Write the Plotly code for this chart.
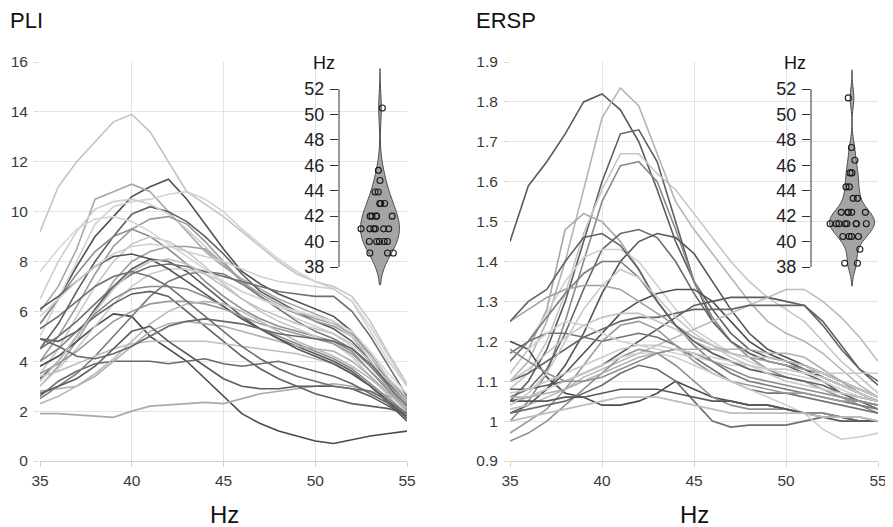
import plotly.graph_objects as go

# ---------------- data ----------------
hz = [35, 36, 37, 38, 39, 40, 41, 42, 43, 44, 45, 46, 47, 48, 49, 50, 51, 52, 53, 54, 55]

pli_s01 = [9.2, 11.0, 12.0, 12.8, 13.6, 13.9, 13.2, 12.0, 10.8, 10.3, 9.8, 9.2, 8.6, 8.0, 7.5, 7.2, 7.0, 6.6, 5.6, 4.3, 3.1]
pli_s02 = [5.5, 6.5, 7.8, 9.0, 9.8, 10.6, 11.0, 11.3, 10.5, 9.5, 8.5, 7.6, 7.1, 6.7, 6.4, 6.1, 5.8, 5.2, 4.2, 3.2, 2.2]
pli_s03 = [6.0, 7.0, 8.5, 10.5, 10.8, 11.1, 10.8, 10.0, 9.2, 8.4, 7.8, 7.3, 6.9, 6.5, 6.2, 5.9, 5.6, 5.0, 4.0, 3.0, 2.3]
pli_s04 = [5.0, 6.5, 8.0, 9.5, 10.2, 10.4, 10.5, 10.7, 10.8, 10.5, 10.0, 9.3, 8.7, 8.1, 7.6, 7.2, 6.9, 6.4, 5.2, 4.0, 3.0]
pli_s05 = [4.5, 5.5, 6.8, 8.0, 9.0, 9.9, 10.2, 10.0, 9.6, 9.0, 8.3, 7.5, 6.8, 6.4, 6.0, 5.6, 5.3, 4.8, 4.0, 3.0, 2.0]
pli_s06 = [6.5, 8.0, 9.2, 10.1, 10.4, 10.5, 10.3, 9.9, 9.3, 8.6, 7.9, 7.2, 6.6, 6.1, 5.7, 5.4, 5.1, 4.6, 3.8, 3.0, 2.4]
pli_s07 = [4.0, 5.0, 6.2, 7.5, 8.6, 9.3, 9.7, 9.8, 9.5, 8.8, 8.0, 7.2, 6.6, 6.2, 5.9, 5.6, 5.4, 5.0, 4.2, 3.3, 2.4]
pli_s08 = [5.5, 6.5, 7.5, 8.4, 9.0, 9.3, 9.0, 8.5, 7.9, 7.2, 6.6, 6.1, 5.7, 5.4, 5.2, 5.0, 4.8, 4.4, 3.6, 2.8, 2.0]
pli_s09 = [3.5, 4.5, 5.8, 7.0, 8.0, 8.7, 9.0, 8.8, 8.4, 7.8, 7.1, 6.5, 6.0, 5.6, 5.3, 5.0, 4.7, 4.2, 3.4, 2.6, 1.8]
pli_s10 = [3.0, 3.8, 4.8, 6.0, 7.2, 8.0, 8.4, 8.6, 8.6, 8.5, 7.9, 7.2, 6.7, 6.3, 6.0, 5.7, 5.5, 5.1, 4.3, 3.3, 2.5]
pli_s11 = [3.3, 4.0, 5.0, 6.1, 7.0, 7.7, 8.1, 8.0, 7.6, 7.0, 6.4, 5.8, 5.3, 4.9, 4.6, 4.3, 4.0, 3.6, 3.0, 2.3, 1.6]
pli_s12 = [3.8, 4.2, 4.8, 5.4, 5.9, 5.8, 5.0, 4.5, 4.0, 3.3, 2.6, 1.9, 1.5, 1.2, 1.0, 0.8, 0.7, 0.85, 1.0, 1.1, 1.2]
pli_s13 = [1.9, 1.9, 1.85, 1.8, 1.75, 2.0, 2.2, 2.25, 2.3, 2.35, 2.3, 2.5, 2.7, 2.8, 2.9, 3.0, 3.1, 3.0, 2.8, 2.6, 2.4]
pli_s14 = [2.6, 3.2, 3.6, 3.9, 4.0, 4.0, 4.0, 3.9, 4.0, 4.1, 3.9, 3.8, 3.9, 4.0, 3.8, 3.6, 3.4, 3.1, 2.7, 2.3, 1.9]
pli_s15 = [2.5, 3.0, 3.5, 4.2, 5.0, 5.8, 6.6, 7.2, 7.5, 7.6, 7.5, 7.1, 6.6, 6.1, 5.6, 5.2, 4.9, 4.5, 3.8, 3.0, 2.2]
pli_s16 = [3.0, 3.7, 4.5, 5.4, 6.3, 7.0, 7.5, 7.7, 7.7, 7.5, 7.2, 6.8, 6.5, 6.2, 6.0, 5.8, 5.5, 5.0, 4.2, 3.3, 2.6]
pli_s17 = [4.0, 4.5, 5.2, 5.9, 6.5, 6.9, 7.0, 7.0, 6.9, 6.6, 6.2, 5.7, 5.3, 5.0, 4.7, 4.4, 4.1, 3.7, 3.1, 2.5, 1.9]
pli_s18 = [4.9, 4.8, 5.2, 5.8, 6.3, 6.7, 6.8, 6.6, 6.0, 5.4, 4.8, 4.2, 3.7, 3.3, 3.0, 2.7, 2.5, 2.3, 2.2, 2.1, 1.9]
pli_s19 = [2.8, 2.9, 3.0, 3.4, 4.0, 4.6, 5.2, 5.5, 5.6, 5.5, 5.4, 5.2, 5.0, 4.8, 4.6, 4.5, 4.4, 4.0, 3.4, 2.7, 2.0]
pli_s20 = [3.4, 3.6, 3.9, 4.2, 4.5, 4.7, 4.8, 4.8, 4.8, 4.8, 4.7, 4.6, 4.5, 4.4, 4.3, 4.1, 3.9, 3.5, 3.0, 2.4, 1.9]
pli_s21 = [6.1, 6.6, 7.2, 7.8, 8.2, 8.3, 8.1, 7.7, 7.2, 6.7, 6.2, 5.7, 5.3, 4.9, 4.5, 4.2, 3.9, 3.5, 3.0, 2.4, 1.7]
pli_s22 = [4.5, 5.0, 5.6, 6.3, 7.0, 7.5, 7.8, 7.9, 7.8, 7.6, 7.4, 7.2, 7.0, 6.8, 6.7, 6.6, 6.6, 6.0, 5.0, 3.8, 2.6]
pli_s23 = [5.8, 6.5, 7.2, 7.8, 8.3, 8.6, 8.7, 8.6, 8.4, 8.2, 8.0, 7.7, 7.4, 7.2, 7.1, 7.0, 6.9, 6.4, 5.4, 4.2, 3.0]
pli_s24 = [3.5, 3.9, 4.4, 5.0, 5.6, 6.0, 6.3, 6.4, 6.4, 6.3, 6.1, 5.8, 5.5, 5.3, 5.1, 4.9, 4.7, 4.3, 3.6, 2.9, 2.1]
pli_s25 = [2.3, 2.6, 3.0, 3.5, 4.1, 4.8, 5.5, 6.0, 6.3, 6.4, 6.3, 6.0, 5.6, 5.2, 4.8, 4.5, 4.2, 3.8, 3.3, 2.7, 2.1]
pli_s26 = [2.7, 3.0, 3.3, 3.8, 4.5, 5.2, 5.4, 4.8, 4.3, 3.8, 3.3, 3.0, 2.9, 2.9, 3.0, 3.0, 3.0, 2.9, 2.6, 2.2, 1.8]
pli_s27 = [4.9, 4.6, 4.2, 4.1, 4.3, 4.6, 5.0, 5.4, 5.6, 5.7, 5.6, 5.5, 5.3, 5.1, 5.0, 4.9, 4.8, 4.5, 3.9, 3.1, 2.4]
pli_s28 = [3.2, 4.0, 5.0, 6.0, 6.9, 7.6, 8.0, 8.1, 7.9, 7.5, 7.0, 6.5, 6.1, 5.8, 5.5, 5.3, 5.1, 4.7, 4.0, 3.2, 2.4]
pli_s29 = [5.3, 5.8, 6.4, 7.0, 7.4, 7.6, 7.4, 7.0, 6.4, 5.8, 5.2, 4.6, 4.1, 3.7, 3.4, 3.2, 3.0, 2.9, 2.8, 2.4, 1.9]
pli_s30 = [7.6, 8.5, 9.3, 9.7, 9.8, 9.6, 9.2, 8.7, 8.2, 7.7, 7.2, 6.8, 6.5, 6.2, 6.0, 5.8, 5.6, 5.2, 4.4, 3.5, 2.7]

ersp_s01 = [1.45, 1.59, 1.65, 1.72, 1.80, 1.82, 1.78, 1.70, 1.58, 1.45, 1.35, 1.28, 1.22, 1.18, 1.16, 1.15, 1.14, 1.12, 1.10, 1.08, 1.06]
ersp_s02 = [1.10, 1.15, 1.25, 1.40, 1.58, 1.76, 1.835, 1.79, 1.67, 1.55, 1.48, 1.42, 1.36, 1.30, 1.25, 1.22, 1.20, 1.17, 1.13, 1.09, 1.06]
ersp_s03 = [1.05, 1.10, 1.18, 1.30, 1.45, 1.60, 1.72, 1.73, 1.65, 1.50, 1.35, 1.25, 1.20, 1.17, 1.15, 1.14, 1.12, 1.10, 1.07, 1.05, 1.03]
ersp_s04 = [1.08, 1.12, 1.20, 1.32, 1.47, 1.58, 1.67, 1.67, 1.62, 1.58, 1.52, 1.46, 1.40, 1.35, 1.31, 1.28, 1.25, 1.20, 1.15, 1.11, 1.07]
ersp_s05 = [1.00, 1.05, 1.12, 1.25, 1.40, 1.55, 1.64, 1.65, 1.60, 1.48, 1.35, 1.26, 1.20, 1.16, 1.13, 1.11, 1.10, 1.08, 1.06, 1.04, 1.02]
ersp_s06 = [1.12, 1.18, 1.28, 1.48, 1.52, 1.50, 1.45, 1.38, 1.30, 1.24, 1.20, 1.17, 1.15, 1.13, 1.12, 1.11, 1.10, 1.08, 1.06, 1.05, 1.04]
ersp_s07 = [1.06, 1.08, 1.13, 1.22, 1.33, 1.43, 1.47, 1.48, 1.46, 1.40, 1.32, 1.25, 1.20, 1.17, 1.15, 1.14, 1.13, 1.11, 1.09, 1.07, 1.05]
ersp_s08 = [1.02, 1.04, 1.08, 1.14, 1.22, 1.32, 1.40, 1.45, 1.47, 1.46, 1.42, 1.35, 1.28, 1.22, 1.18, 1.16, 1.14, 1.12, 1.10, 1.07, 1.05]
ersp_s09 = [1.15, 1.20, 1.27, 1.35, 1.41, 1.43, 1.43, 1.40, 1.34, 1.28, 1.23, 1.20, 1.17, 1.15, 1.13, 1.12, 1.11, 1.10, 1.08, 1.06, 1.05]
ersp_s10 = [1.17, 1.20, 1.26, 1.32, 1.37, 1.40, 1.40, 1.36, 1.30, 1.24, 1.19, 1.15, 1.12, 1.10, 1.09, 1.08, 1.07, 1.06, 1.05, 1.04, 1.03]
ersp_s11 = [1.05, 1.06, 1.08, 1.12, 1.17, 1.22, 1.27, 1.30, 1.32, 1.33, 1.33, 1.30, 1.25, 1.20, 1.17, 1.15, 1.13, 1.11, 1.09, 1.07, 1.05]
ersp_s12 = [1.08, 1.08, 1.09, 1.10, 1.12, 1.14, 1.17, 1.20, 1.23, 1.26, 1.29, 1.30, 1.31, 1.31, 1.31, 1.30, 1.29, 1.25, 1.19, 1.13, 1.09]
ersp_s13 = [1.03, 1.04, 1.06, 1.08, 1.11, 1.13, 1.15, 1.17, 1.19, 1.21, 1.23, 1.25, 1.27, 1.29, 1.31, 1.33, 1.33, 1.30, 1.26, 1.21, 1.15]
ersp_s14 = [1.10, 1.12, 1.15, 1.18, 1.21, 1.23, 1.25, 1.26, 1.26, 1.27, 1.28, 1.28, 1.28, 1.29, 1.29, 1.29, 1.29, 1.24, 1.18, 1.13, 1.10]
ersp_s15 = [1.20, 1.18, 1.11, 1.07, 1.06, 1.04, 1.04, 1.05, 1.07, 1.10, 1.08, 1.06, 1.05, 1.04, 1.04, 1.03, 1.02, 1.02, 1.01, 1.00, 1.00]
ersp_s16 = [1.15, 1.20, 1.22, 1.22, 1.21, 1.20, 1.21, 1.22, 1.21, 1.19, 1.16, 1.13, 1.10, 1.08, 1.07, 1.07, 1.06, 1.05, 1.04, 1.03, 1.02]
ersp_s17 = [0.95, 0.97, 1.00, 1.04, 1.08, 1.12, 1.16, 1.18, 1.17, 1.14, 1.10, 1.06, 1.04, 1.03, 1.03, 1.03, 1.02, 1.02, 1.01, 1.01, 1.00]
ersp_s18 = [0.97, 1.00, 1.03, 1.08, 1.14, 1.20, 1.24, 1.25, 1.23, 1.19, 1.15, 1.12, 1.10, 1.09, 1.08, 1.07, 1.07, 1.06, 1.05, 1.05, 1.04]
ersp_s19 = [1.02, 1.03, 1.04, 1.05, 1.07, 1.09, 1.12, 1.14, 1.13, 1.10, 1.05, 1.00, 0.985, 0.99, 0.99, 0.99, 1.00, 1.01, 1.01, 1.00, 1.00]
ersp_s20 = [1.04, 1.06, 1.08, 1.10, 1.12, 1.14, 1.16, 1.17, 1.17, 1.16, 1.14, 1.12, 1.10, 1.08, 1.06, 1.04, 1.02, 0.98, 0.955, 0.96, 0.97]
ersp_s21 = [1.25, 1.28, 1.31, 1.33, 1.34, 1.34, 1.33, 1.30, 1.27, 1.24, 1.21, 1.19, 1.17, 1.16, 1.15, 1.14, 1.13, 1.12, 1.10, 1.08, 1.06]
ersp_s22 = [1.10, 1.13, 1.17, 1.21, 1.24, 1.26, 1.27, 1.27, 1.25, 1.23, 1.20, 1.18, 1.17, 1.16, 1.16, 1.15, 1.14, 1.12, 1.10, 1.08, 1.06]
ersp_s23 = [1.06, 1.06, 1.07, 1.08, 1.10, 1.12, 1.14, 1.16, 1.17, 1.18, 1.18, 1.18, 1.18, 1.18, 1.17, 1.17, 1.16, 1.13, 1.10, 1.07, 1.05]
ersp_s24 = [1.05, 1.05, 1.05, 1.06, 1.06, 1.07, 1.08, 1.08, 1.08, 1.07, 1.06, 1.05, 1.05, 1.04, 1.04, 1.03, 1.02, 1.01, 1.00, 1.00, 1.00]
ersp_s25 = [1.12, 1.18, 1.22, 1.25, 1.24, 1.22, 1.20, 1.19, 1.18, 1.17, 1.16, 1.15, 1.14, 1.14, 1.13, 1.13, 1.12, 1.11, 1.09, 1.07, 1.05]
ersp_s26 = [1.25, 1.30, 1.33, 1.40, 1.46, 1.47, 1.44, 1.38, 1.30, 1.24, 1.20, 1.17, 1.15, 1.13, 1.12, 1.11, 1.10, 1.09, 1.07, 1.06, 1.05]
ersp_s27 = [1.00, 1.01, 1.02, 1.03, 1.04, 1.05, 1.06, 1.06, 1.06, 1.05, 1.04, 1.03, 1.02, 1.02, 1.02, 1.02, 1.02, 1.01, 1.01, 1.01, 1.00]
ersp_s28 = [1.18, 1.15, 1.12, 1.10, 1.10, 1.11, 1.13, 1.15, 1.17, 1.18, 1.17, 1.15, 1.13, 1.11, 1.10, 1.09, 1.08, 1.07, 1.06, 1.05, 1.04]
ersp_s29 = [1.04, 1.07, 1.12, 1.20, 1.28, 1.34, 1.38, 1.36, 1.31, 1.26, 1.22, 1.19, 1.16, 1.14, 1.12, 1.10, 1.09, 1.08, 1.07, 1.06, 1.05]
ersp_s30 = [1.07, 1.08, 1.10, 1.12, 1.14, 1.16, 1.18, 1.19, 1.19, 1.18, 1.17, 1.16, 1.15, 1.14, 1.13, 1.13, 1.12, 1.12, 1.12, 1.12, 1.12]

pli_peak_hz = [50.5, 45.6, 44.8, 43.9, 43.9, 43.0, 43.0, 43.0,
               42.0, 42.0, 42.0, 42.0, 42.0,
               41.0, 41.0, 41.0, 41.0, 41.0, 41.0,
               40.0, 40.0, 40.0, 40.0, 40.0,
               39.1, 39.1, 39.1]
ersp_peak_hz = [51.3, 47.4, 46.4, 45.4, 45.4, 44.3, 44.3, 43.4, 43.4,
                42.3, 42.3, 42.3, 42.3, 42.3,
                41.4, 41.4, 41.4, 41.4, 41.4, 41.4, 41.4, 41.4,
                40.4, 40.4, 40.4, 40.4, 39.4, 38.3, 38.3]

pli_curves = [pli_s01, pli_s02, pli_s03, pli_s04, pli_s05, pli_s06, pli_s07, pli_s08, pli_s09, pli_s10,
              pli_s11, pli_s12, pli_s13, pli_s14, pli_s15, pli_s16, pli_s17, pli_s18, pli_s19, pli_s20,
              pli_s21, pli_s22, pli_s23, pli_s24, pli_s25, pli_s26, pli_s27, pli_s28, pli_s29, pli_s30]
ersp_curves = [ersp_s01, ersp_s02, ersp_s03, ersp_s04, ersp_s05, ersp_s06, ersp_s07, ersp_s08, ersp_s09, ersp_s10,
               ersp_s11, ersp_s12, ersp_s13, ersp_s14, ersp_s15, ersp_s16, ersp_s17, ersp_s18, ersp_s19, ersp_s20,
               ersp_s21, ersp_s22, ersp_s23, ersp_s24, ersp_s25, ersp_s26, ersp_s27, ersp_s28, ersp_s29, ersp_s30]

# ---------------- styles ----------------
pli_colors = ['#c4c4c4', '#505050', '#a8a8a8', '#d2d2d2', '#5e5e5e', '#cfcfcf', '#9a9a9a', '#8c8c8c',
              '#c8c8c8', '#a0a0a0', '#5a5a5a', '#4a4a4a', '#a9a9a9', '#6a6a6a', '#7a7a7a', '#cccccc',
              '#8a8a8a', '#606060', '#b0b0b0', '#bdbdbd', '#555555', '#707070', '#d0d0d0', '#999999',
              '#b8b8b8', '#5c5c5c', '#686868', '#c0c0c0', '#6e6e6e', '#d6d6d6']
ersp_colors = ['#5a5a5a', '#b4b4b4', '#5e5e5e', '#c6c6c6', '#8a8a8a', '#a6a6a6', '#6a6a6a', '#555555',
               '#d0d0d0', '#7a7a7a', '#505050', '#5c5c5c', '#bcbcbc', '#666666', '#4c4c4c', '#727272',
               '#909090', '#9a9a9a', '#6e6e6e', '#cfcfcf', '#a0a0a0', '#c4c4c4', '#b0b0b0', '#585858',
               '#d2d2d2', '#626262', '#bdbdbd', '#8e8e8e', '#c8c8c8', '#cacaca']

W, H = 893, 527
OFF = 8  # the page places the figure 8 px in from the window's top-left corner
FONT = "Liberation Sans, Arial, sans-serif"


def px_x(p):
    return (p - OFF) / W


def px_y(p):
    return 1 - (p - OFF) / H


fig = go.Figure()

for curve, col in zip(pli_curves, pli_colors):
    fig.add_trace(go.Scatter(x=hz, y=curve, mode='lines', line=dict(color=col, width=1.6),
                             xaxis='x', yaxis='y', showlegend=False, hoverinfo='skip'))
for curve, col in zip(ersp_curves, ersp_colors):
    fig.add_trace(go.Scatter(x=hz, y=curve, mode='lines', line=dict(color=col, width=1.6),
                             xaxis='x2', yaxis='y2', showlegend=False, hoverinfo='skip'))

violin_style = dict(points='all', pointpos=0, jitter=1.0, fillcolor='#a4a4a4',
                    line=dict(color='#505050', width=1),
                    marker=dict(symbol='circle-open', color='#1a1a1a', size=6, line=dict(width=1.1)),
                    spanmode='manual', scalemode='width', showlegend=False, hoverinfo='skip', x0=0)
fig.add_trace(go.Violin(y=pli_peak_hz, xaxis='x3', yaxis='y3', bandwidth=1.2, width=0.95,
                        span=[36.6, 53.6], **violin_style))
fig.add_trace(go.Violin(y=ersp_peak_hz, xaxis='x4', yaxis='y4', bandwidth=0.75, width=1.1,
                        span=[36.5, 53.5], **violin_style))

main_y_dom = [px_y(461), px_y(62)]
inset_y_dom = [px_y(292.43), px_y(63.57)]

xcommon = dict(range=[35, 55], tickvals=[35, 40, 45, 50, 55], showgrid=True, gridcolor='#e3e3e3',
               gridwidth=1, zeroline=False, showline=True, linecolor='#cfcfcf', linewidth=1,
               ticks='outside', ticklen=5, tickcolor='#cfcfcf', automargin=False,
               tickfont=dict(family=FONT, size=15.5, color='#3a3a3a'))
ycommon = dict(showgrid=True, gridcolor='#e3e3e3', gridwidth=1, zeroline=False, showline=False,
               ticks='outside', ticklen=5, tickcolor='#d8d8d8', ticklabelstandoff=3, automargin=False,
               tickfont=dict(family=FONT, size=15.5, color='#3a3a3a'))
inset_y = dict(range=[36, 54], tickvals=[38, 40, 42, 44, 46, 48, 50, 52], showgrid=False,
               zeroline=False, showline=False, ticks='outside', ticklen=8, tickcolor='#333333',
               tickwidth=1, ticklabelstandoff=2, automargin=False,
               tickfont=dict(family=FONT, size=18, color='#222222'))
inset_x = dict(range=[-1, 1], visible=False, fixedrange=True, automargin=False)

fig.update_layout(
    template='none',
    width=W, height=H,
    margin=dict(l=0, r=0, t=0, b=0, pad=0, autoexpand=False),
    paper_bgcolor='white', plot_bgcolor='rgba(0,0,0,0)',
    font=dict(family=FONT),
    xaxis=dict(domain=[px_x(40), px_x(407)], anchor='y', **xcommon),
    yaxis=dict(domain=main_y_dom, anchor='x', range=[0, 16], tickvals=list(range(0, 17, 2)), **ycommon),
    xaxis2=dict(domain=[px_x(510), px_x(878)], anchor='y2', **xcommon),
    yaxis2=dict(domain=main_y_dom, anchor='x2', range=[0.9, 1.9],
                tickvals=[0.9, 1.0, 1.1, 1.2, 1.3, 1.4, 1.5, 1.6, 1.7, 1.8, 1.9],
                ticktext=['0.9', '1', '1.1', '1.2', '1.3', '1.4', '1.5', '1.6', '1.7', '1.8', '1.9'],
                **ycommon),
    xaxis3=dict(domain=[px_x(339), px_x(421)], anchor='y3', **inset_x),
    yaxis3=dict(domain=inset_y_dom, anchor='x3', **inset_y),
    xaxis4=dict(domain=[px_x(811), min(1.0, px_x(893))], anchor='y4', **inset_x),
    yaxis4=dict(domain=inset_y_dom, anchor='x4', **inset_y),
)

# inset axis lines (bracket from 38 to 52)
for xp, yref in [(339, 'y3'), (811, 'y4')]:
    fig.add_shape(type='line', xref='paper', yref=yref, x0=px_x(xp), x1=px_x(xp), y0=38, y1=52,
                  line=dict(color='#333333', width=1))

annos = [
    dict(text='PLI', x=px_x(8), y=px_y(20), xanchor='left', yanchor='middle', size=22),
    dict(text='ERSP', x=px_x(474), y=px_y(20), xanchor='left', yanchor='middle', size=22),
    dict(text='Hz', x=px_x(224), y=px_y(514), xanchor='center', yanchor='middle', size=24),
    dict(text='Hz', x=px_x(694), y=px_y(514), xanchor='center', yanchor='middle', size=24),
    dict(text='Hz', x=px_x(324), y=px_y(63), xanchor='center', yanchor='middle', size=18),
    dict(text='Hz', x=px_x(795), y=px_y(63), xanchor='center', yanchor='middle', size=18),
]
for a in annos:
    fig.add_annotation(text=a['text'], x=a['x'], y=a['y'], xref='paper', yref='paper',
                       xanchor=a['xanchor'], yanchor=a['yanchor'], showarrow=False,
                       font=dict(family=FONT, size=a['size'], color='#111111'))

fig.write_html("out.html")
